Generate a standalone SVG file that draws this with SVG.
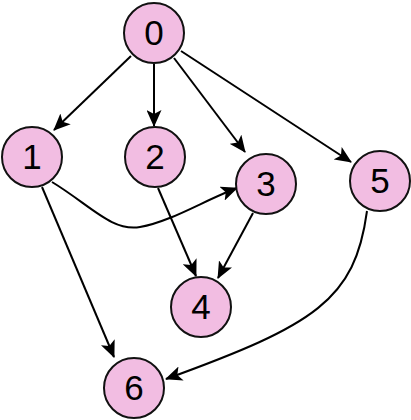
<svg xmlns="http://www.w3.org/2000/svg" width="411" height="420" viewBox="0 0 411 420">
<style>
.n circle{fill:#f2bde2;stroke:#111;stroke-width:2}
.n text{font-family:"Liberation Sans",Arial,sans-serif;font-size:35px;text-anchor:middle;fill:#000}
.e path{fill:none;stroke:#000;stroke-width:2;marker-end:url(#a)}
</style>
<defs>
<marker id="a" markerWidth="17" markerHeight="15" refX="16" refY="7.5" orient="auto" markerUnits="userSpaceOnUse">
<path d="M0,0 L17,7.5 L0,15 L4,7.5 Z" fill="#000"/>
</marker>
</defs>
<rect width="411" height="420" fill="#fff"/>
<g id="edges" class="e">
<path d="M131,56 L54,130"/>
<path d="M154,64 L154,126"/>
<path d="M174,58 L245,152"/>
<path d="M181,51 L351,162"/>
<path d="M52,182 C90,205 112,232 140,227 C170,222 205,200 237,188"/>
<path d="M42,187 L114,357"/>
<path d="M158,188 L196,276"/>
<path d="M253,213 L218,278"/>
<path d="M367,211 C355,300 315,325 166,379"/>
</g>
<g id="n0" class="n"><circle cx="154" cy="33" r="30"/><text x="154" y="45">0</text></g>
<g id="n1" class="n"><circle cx="32" cy="157" r="30"/><text x="32" y="169">1</text></g>
<g id="n2" class="n"><circle cx="155" cy="157" r="30"/><text x="155" y="169">2</text></g>
<g id="n3" class="n"><circle cx="266" cy="184" r="30"/><text x="266" y="196">3</text></g>
<g id="n4" class="n"><circle cx="201" cy="307" r="30"/><text x="201" y="319">4</text></g>
<g id="n5" class="n"><circle cx="380" cy="181" r="30"/><text x="380" y="193">5</text></g>
<g id="n6" class="n"><circle cx="134" cy="388" r="30"/><text x="134" y="400">6</text></g>
</svg>
